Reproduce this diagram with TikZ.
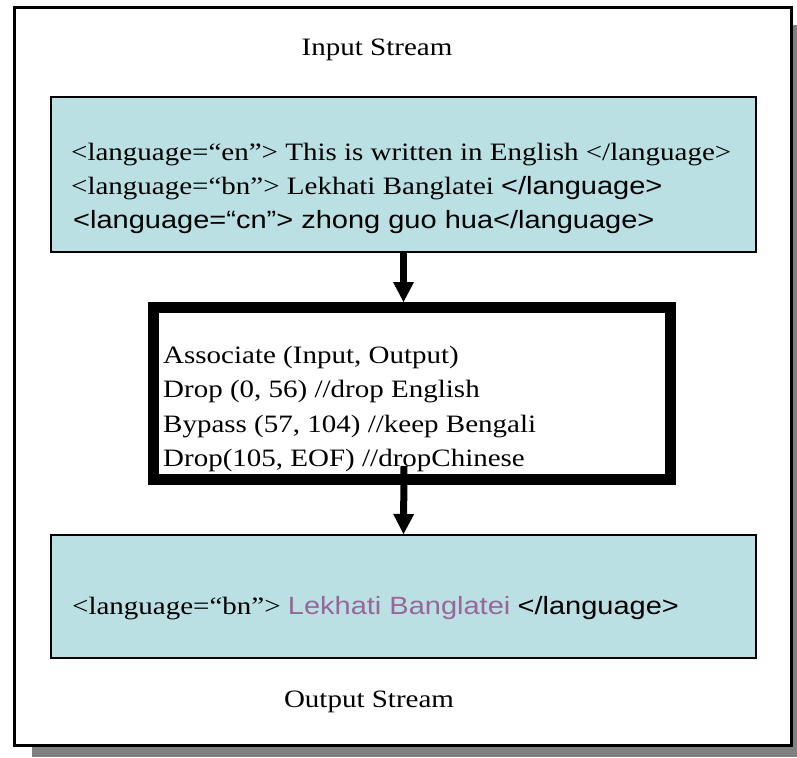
\documentclass[tikz,border=0pt]{standalone}
\usepackage{fontspec}
\setmainfont{Liberation Serif}
\newfontfamily\sansf{Liberation Sans}
\usepackage{graphicx}
\usetikzlibrary{arrows.meta}
\definecolor{boxblue}{HTML}{BBE0E3}
\definecolor{tagpurple}{HTML}{996699}
\definecolor{shadowgray}{HTML}{808080}
% slightly widened lettering
\newcommand\wtext[1]{\scalebox{1.16}[1]{#1}}

\begin{document}
\begin{tikzpicture}[x=1pt,y=-1pt,
  streambox/.style={draw=black,line width=2pt,fill=boxblue,minimum width=705pt,
    inner sep=0pt,outer sep=1pt},
  filterbox/.style={draw=black,line width=11pt,fill=white,minimum width=517pt,
    minimum height=172pt,inner sep=0pt,outer sep=5.5pt},
  txtline/.style={anchor=base west,inner sep=0pt,font=\fontsize{25}{30}\selectfont},
  streamtitle/.style={anchor=base,inner sep=0pt,font=\fontsize{25}{30}\selectfont},
  flow/.style={line width=7pt,-{Triangle[width=21pt,length=20pt,line width=0pt]}}]
\useasboundingbox (0,0) rectangle (797,757);

% page with drop shadow
\fill[shadowgray] (32,25) rectangle (797,757);
\draw[line width=3pt,fill=white] (14,8) rectangle (791,745);

% boxes
\node[streambox,minimum height=155pt] (inbox) at (403.5,174.5) {};
\node[filterbox] (mid) at (412,393.5) {};
\node[streambox,minimum height=123pt] (outbox) at (403.5,596.5) {};

% titles
\node[streamtitle] (intitle) at (377,56) {\wtext{Input Stream}};
\node[streamtitle] (outtitle) at (369,707) {\wtext{Output Stream}};

% input stream contents
\node[txtline] (in1) at (71,160) {\wtext{<language=“en”> This is written in English </language>}};
\node[txtline] (in2) at (71,194) {\wtext{<language=“bn”> Lekhati Banglatei {\sansf</language>}}};
\node[txtline] (in3) at (73,228) {\wtext{\sansf<language=“cn”> zhong guo hua</language>}};

% filter program
\node[txtline] (op1) at (163,363) {\wtext{Associate (Input, Output)}};
\node[txtline] (op2) at (163,397.5) {\wtext{Drop (0, 56) //drop English}};
\node[txtline] (op3) at (163,432) {\wtext{Bypass (57, 104) //keep Bengali}};
\node[txtline] (op4) at (163,466.5) {\wtext{Drop(105, EOF) //dropChinese}};

% output stream contents
\node[txtline] (out1) at (72,614) {\wtext{<language=“bn”> {\sansf\color{tagpurple}Lekhati Banglatei} {\sansf</language>}}};

% flow arrows
\draw[flow] (inbox.south) -- (inbox.south |- mid.north);
\coordinate (tail) at (404,466);
\draw[flow] (tail) -- (outbox.north);
\end{tikzpicture}
\end{document}
